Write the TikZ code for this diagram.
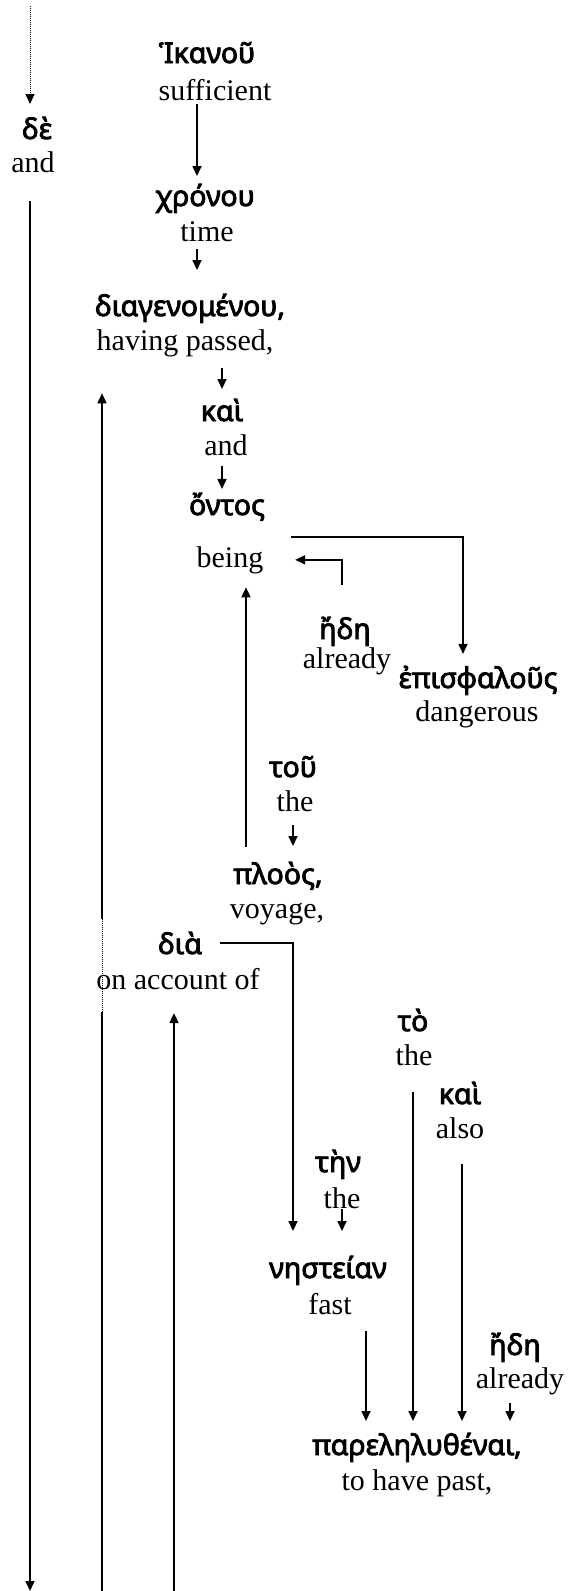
\documentclass[tikz,border=0pt]{standalone}
\usepackage{fontspec}
\setmainfont{Liberation Serif}
\newfontfamily\grkfont{Noto Sans}[FakeBold=3]
\usetikzlibrary{arrows.meta}

\begin{document}
\begin{tikzpicture}[x=1pt,y=-1pt,line width=1.7pt,>={Triangle[length=10pt,width=9pt]},
	gr/.style={font=\grkfont\fontsize{28.5}{34}\selectfont,anchor=base,inner sep=3pt},
	en/.style={font=\fontsize{30}{36}\selectfont,anchor=base,inner sep=3pt}]
\useasboundingbox (0,0) rectangle (574,1591);
\coordinate (top) at (30,6);
\coordinate (bottom) at (0,1591);

\node[gr] (de) at (37,139) {δὲ};
\node[en] (de-en) at (33,172) {and};
\node[gr] (ikanou) at (207,63) {Ἱκανοῦ};
\node[en] (ikanou-en) at (215,100) {sufficient};
\node[gr] (chronou) at (205,206) {χρόνου};
\node[en] (chronou-en) at (207,241) {time};
\node[gr] (diagen) at (190,316) {διαγενομένου,};
\node[en] (diagen-en) at (185,350) {having passed,};
\node[gr] (kai) at (222,421) {καὶ};
\node[en] (kai-en) at (226,455) {and};
\node[gr] (ontos) at (227,515) {ὄντος};
\node[en] (ontos-en) at (230,567) {being};
\node[gr] (ede) at (345,639) {ἤδη};
\node[en] (ede-en) at (347,668) {already};
\node[gr] (episf) at (478,688) {ἐπισφαλοῦς};
\node[en] (episf-en) at (477,721) {dangerous};
\node[gr] (tou) at (293,777) {τοῦ};
\node[en] (tou-en) at (295,811) {the};
\node[gr] (ploos) at (278,884) {πλοὸς,};
\node[en] (ploos-en) at (277,918) {voyage,};
\node[gr] (dia) at (180,954) {διὰ};
\node[en] (dia-en) at (178,989) {on account of};
\node[gr] (to) at (413,1031) {τὸ};
\node[en] (to-en) at (414,1065) {the};
\node[gr] (kai2) at (460,1104) {καὶ};
\node[en] (kai2-en) at (460,1138) {also};
\node[gr] (ten) at (338,1172) {τὴν};
\node[en] (ten-en) at (342,1208) {the};
\node[gr] (nesteian) at (328,1278) {νηστείαν};
\node[en] (nesteian-en) at (330,1314) {fast};
\node[gr] (ede2) at (515,1355) {ἤδη};
\node[en] (ede2-en) at (520,1388) {already};
\node[gr] (parel) at (417,1455) {παρεληλυθέναι,};
\node[en] (parel-en) at (417,1490) {to have past,};

\draw[->,densely dotted,line width=1pt,shorten >=9pt] (top) -- (top |- de.north);
\draw[->] ([xshift=-3pt,yshift=-25pt]de-en.south) coordinate (d0) -- (d0 |- bottom);
\draw[->,shorten >=4pt] ([xshift=-18pt]ikanou-en.south) coordinate (i0) -- (i0 |- chronou.north);
\draw[->,shorten >=20pt] ([xshift=-10pt,yshift=-4pt]chronou-en.south) coordinate (c0) -- (c0 |- diagen.north);
\draw[->,shorten >=6pt] ([xshift=37pt,yshift=-8pt]diagen-en.south) coordinate (g0) -- (g0 |- kai.north);
\draw[->] ([xshift=-4pt,yshift=-7pt]kai-en.south) coordinate (k0) -- (k0 |- ontos.north);
\draw[->,shorten >=8pt] ([shift={(22,22)}]ontos.base east) -| ([xshift=-15pt]episf.north);
\draw[->,shorten >=28pt] ([xshift=-3pt,yshift=28pt]ede.north) |- (ontos-en.east);
\draw[->,shorten >=12pt] ([xshift=-2pt,yshift=-10pt]tou-en.south) coordinate (t0) -- (t0 |- ploos.north);
\draw[->,shorten >=10pt] ([xshift=-32pt,yshift=11pt]ploos.north) coordinate (p0) -- (p0 |- ontos-en.south);
\draw[->,shorten >=21pt] ([xshift=14pt]dia.east) -| ([xshift=-35pt]nesteian.north);
\draw[<-,shorten <=33pt] ([xshift=-83pt]diagen-en.south) coordinate (h0) -- ([yshift=9pt]h0 |- dia.north);
\draw[densely dotted,line width=1pt] ([yshift=9pt]h0 |- dia.north) -- ([yshift=-19pt]h0 |- dia-en.south);
\draw ([yshift=-19pt]h0 |- dia-en.south) -- (h0 |- bottom);
\draw[<-,shorten <=20pt] ([xshift=-4pt]dia-en.south) coordinate (a0) -- (a0 |- bottom);
\draw[->,shorten >=8pt] ([xshift=-1pt,yshift=-23pt]to-en.south) coordinate (o0) -- (o0 |- parel.north);
\draw[->,shorten >=8pt] ([xshift=2pt,yshift=-22pt]kai2-en.south) coordinate (k1) -- (k1 |- parel.north);
\draw[->,shorten >=21pt] ([yshift=3pt]ten-en.south) coordinate (n0) -- (n0 |- nesteian.north);
\draw[->,shorten >=8pt] ([xshift=36pt,yshift=-13pt]nesteian-en.south) coordinate (f0) -- (f0 |- parel.north);
\draw[->,shorten >=8pt] ([xshift=-10pt,yshift=-5pt]ede2-en.south) coordinate (e0) -- (e0 |- parel.north);
\end{tikzpicture}
\end{document}
